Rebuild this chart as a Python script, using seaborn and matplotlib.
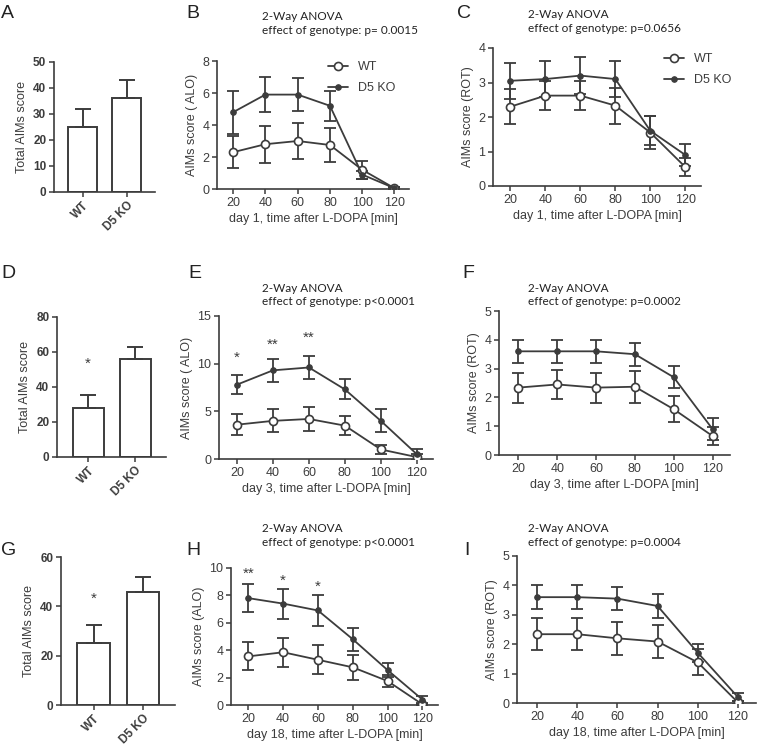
import numpy as np
import pandas as pd
import seaborn as sns
import matplotlib.pyplot as plt

# data
genotypes = ["WT", "D5 KO"]
times = [20, 40, 60, 80, 100, 120]

# total AIMs (bar panels A, D, G)
a_tot = [25, 36]
a_err = [7, 7]
d_tot = [28, 56]
d_err = [7.5, 7]
g_tot = [25.3, 45.8]
g_err = [7.2, 6]

# day 1
b_wt = [2.3, 2.8, 3.0, 2.75, 1.2, 0.05]
b_wt_err = [1.0, 1.15, 1.1, 1.05, 0.55, 0.05]
b_ko = [4.8, 5.9, 5.9, 5.2, 0.9, 0.05]
b_ko_err = [1.35, 1.1, 1.05, 0.95, 0.25, 0.05]
c_wt = [2.3, 2.62, 2.62, 2.33, 1.55, 0.55]
c_wt_err = [0.5, 0.42, 0.43, 0.52, 0.48, 0.27]
c_ko = [3.05, 3.1, 3.2, 3.1, 1.6, 0.9]
c_ko_err = [0.52, 0.52, 0.53, 0.52, 0.42, 0.32]

# day 3
e_wt = [3.6, 4.0, 4.2, 3.5, 1.0, 0.2]
e_wt_err = [1.1, 1.2, 1.25, 1.0, 0.5, 0.3]
e_ko = [7.8, 9.3, 9.6, 7.3, 4.0, 0.5]
e_ko_err = [1.0, 1.2, 1.2, 1.05, 1.2, 0.6]
f_wt = [2.34, 2.45, 2.34, 2.37, 1.59, 0.66]
f_wt_err = [0.52, 0.5, 0.52, 0.55, 0.45, 0.3]
f_ko = [3.6, 3.6, 3.6, 3.5, 2.7, 0.9]
f_ko_err = [0.4, 0.4, 0.4, 0.4, 0.38, 0.38]

# day 18
h_wt = [3.55, 3.85, 3.3, 2.75, 1.75, 0.05]
h_wt_err = [1.03, 1.05, 1.07, 0.9, 0.45, 0.05]
h_ko = [7.8, 7.4, 6.9, 4.8, 2.55, 0.4]
h_ko_err = [1.02, 1.1, 1.1, 0.85, 0.5, 0.25]
i_wt = [2.34, 2.34, 2.2, 2.09, 1.38, 0.02]
i_wt_err = [0.54, 0.55, 0.57, 0.55, 0.44, 0.05]
i_ko = [3.6, 3.6, 3.55, 3.3, 1.71, 0.2]
i_ko_err = [0.4, 0.4, 0.4, 0.42, 0.3, 0.13]

# significance stars (time, text, y)
e_stars = [(20, "*", 10.6), (40, "**", 12.0), (60, "**", 12.7)]
h_stars = [(20, "**", 9.6), (40, "*", 9.1), (60, "*", 8.65)]

sns.set_style("ticks")
plt.rcParams["font.family"] = ["Liberation Sans", "DejaVu Sans"]
plt.rcParams["xtick.direction"] = "out"
plt.rcParams["ytick.direction"] = "out"

DARK = "#3c3c3c"
W, H = 757, 747
fig = plt.figure(figsize=(W / 100, H / 100), dpi=100)


def px_axes(x0, y0, x1, y1):
    # axes from pixel box (top-left origin)
    return fig.add_axes([x0 / W, 1 - y1 / H, (x1 - x0) / W, (y1 - y0) / H])


def style_axis(ax, bold=False, size=9):
    sns.despine(ax=ax)
    for s in ["left", "bottom"]:
        ax.spines[s].set_color(DARK)
        ax.spines[s].set_linewidth(1.2)
    ax.tick_params(colors=DARK, width=1.1, length=3.5, labelsize=size, pad=2)
    for lab in ax.get_xticklabels() + ax.get_yticklabels():
        lab.set_color(DARK)
        if bold:
            lab.set_fontweight("bold")


def bar_panel(box, vals, errs, ymax, ystep, star=None):
    ax = px_axes(*box)
    sns.barplot(x=genotypes, y=vals, ax=ax, color="white", edgecolor=DARK,
                linewidth=1.4, width=0.66, saturation=1)
    ax.errorbar([0, 1], vals, yerr=[[0, 0], errs], fmt="none", ecolor=DARK,
                elinewidth=1.4, capsize=6, capthick=1.4, zorder=1)
    ax.set_xlim(-0.66, 1.65)
    ax.set_ylim(0, ymax)
    ax.set_yticks(np.arange(0, ymax + 1, ystep))
    ax.set_ylabel("Total AIMs score", fontsize=9, color=DARK, labelpad=4)
    ax.set_xticks([0, 1])
    ax.set_xticklabels(genotypes, rotation=45, ha="right", rotation_mode="anchor")
    style_axis(ax, bold=True, size=8.5)
    if star is not None:
        ax.text(0, star, "*", ha="center", va="center", fontsize=11, color=DARK)
    return ax


def line_panel(box, wt, wt_err, ko, ko_err, ymax, ystep, ylabel, xlabel,
               stars=None, legend=None):
    ax = px_axes(*box)
    ax.errorbar(times, ko, yerr=ko_err, fmt="none", ecolor=DARK,
                elinewidth=1.3, capsize=4, capthick=1.3, zorder=2)
    ax.errorbar(times, wt, yerr=wt_err, fmt="none", ecolor=DARK,
                elinewidth=1.3, capsize=4, capthick=1.3, zorder=2)
    sns.lineplot(x=times, y=wt, ax=ax, color=DARK, lw=1.3, marker="o",
                 markersize=5.8, markerfacecolor="white", markeredgecolor=DARK,
                 markeredgewidth=1.2, label="WT", legend=False, zorder=3)
    sns.lineplot(x=times, y=ko, ax=ax, color=DARK, lw=1.3, marker="o",
                 markersize=4, markerfacecolor=DARK, markeredgecolor=DARK,
                 label="D5 KO", legend=False, zorder=3)
    ax.set_xlim(10, 129)
    ax.set_ylim(0, ymax)
    ax.set_xticks(times)
    ax.set_yticks(np.arange(0, ymax + 0.01, ystep))
    ax.set_ylabel(ylabel, fontsize=9, color=DARK, labelpad=3)
    ax.set_xlabel(xlabel, fontsize=9, color=DARK, labelpad=3)
    style_axis(ax)
    if stars:
        for t, s, y in stars:
            ax.text(t, y, s, ha="center", va="center", fontsize=11, color=DARK)
    if legend is not None:
        ax.legend(loc="upper left", bbox_to_anchor=legend, frameon=False,
                  fontsize=9, handlelength=1.6, labelcolor=DARK,
                  labelspacing=0.75, borderaxespad=0)
    return ax


bar_panel((54, 62, 155, 192), a_tot, a_err, 50, 10)
bar_panel((57, 317, 166, 457), d_tot, d_err, 80, 20, star=53)
bar_panel((61, 557, 175, 705), g_tot, g_err, 60, 20, star=43)

line_panel((217, 61, 409, 189), b_wt, b_wt_err, b_ko, b_ko_err, 8, 2,
           "AIMs score ( ALO)", "day 1, time after L-DOPA [min]",
           legend=(0.55, 1.04))
line_panel((493, 48, 701, 186), c_wt, c_wt_err, c_ko, c_ko_err, 4, 1,
           "AIMs score (ROT)", "day 1, time after L-DOPA [min]",
           legend=(0.8, 1.0))
line_panel((219, 316, 433, 459), e_wt, e_wt_err, e_ko, e_ko_err, 15, 5,
           "AIMs score ( ALO)", "day 3, time after L-DOPA [min]", stars=e_stars)
line_panel((499, 311, 730, 455), f_wt, f_wt_err, f_ko, f_ko_err, 5, 1,
           "AIMs score (ROT)", "day 3, time after L-DOPA [min]")
line_panel((231, 568, 438, 705), h_wt, h_wt_err, h_ko, h_ko_err, 10, 2,
           "AIMs score (ALO)", "day 18, time after L-DOPA [min]", stars=h_stars)
line_panel((517, 556, 756, 703), i_wt, i_wt_err, i_ko, i_ko_err, 5, 1,
           "AIMs score (ROT)", "day 18, time after L-DOPA [min]")

# panel letters (baseline position in pixels)
letters = [("A", 1, 18), ("B", 186, 18), ("C", 457, 18),
           ("D", 1, 278), ("E", 188, 278), ("F", 462, 278),
           ("G", 1, 555), ("H", 186, 555), ("I", 464, 555)]
for s, x, y in letters:
    fig.text(x / W, 1 - y / H, s, fontsize=14, family="Liberation Sans",
             color="#222222", va="baseline", ha="left")

# ANOVA annotations
anova = [(262, 16, "p= 0.0015"), (528, 15, "p=0.0656"),
         (262, 288, "p<0.0001"), (528, 288, "p=0.0002"),
         (262, 529, "p<0.0001"), (528, 529, "p=0.0004")]
for x, y, p in anova:
    fig.text(x / W, 1 - y / H, "2-Way ANOVA", fontsize=8.5,
             family="Lato", color="#222222", va="center")
    fig.text(x / W, 1 - (y + 14) / H, "effect of genotype: " + p, fontsize=8.5,
             family="Lato", color="#222222", va="center")

fig.savefig("out.png", dpi=100)
